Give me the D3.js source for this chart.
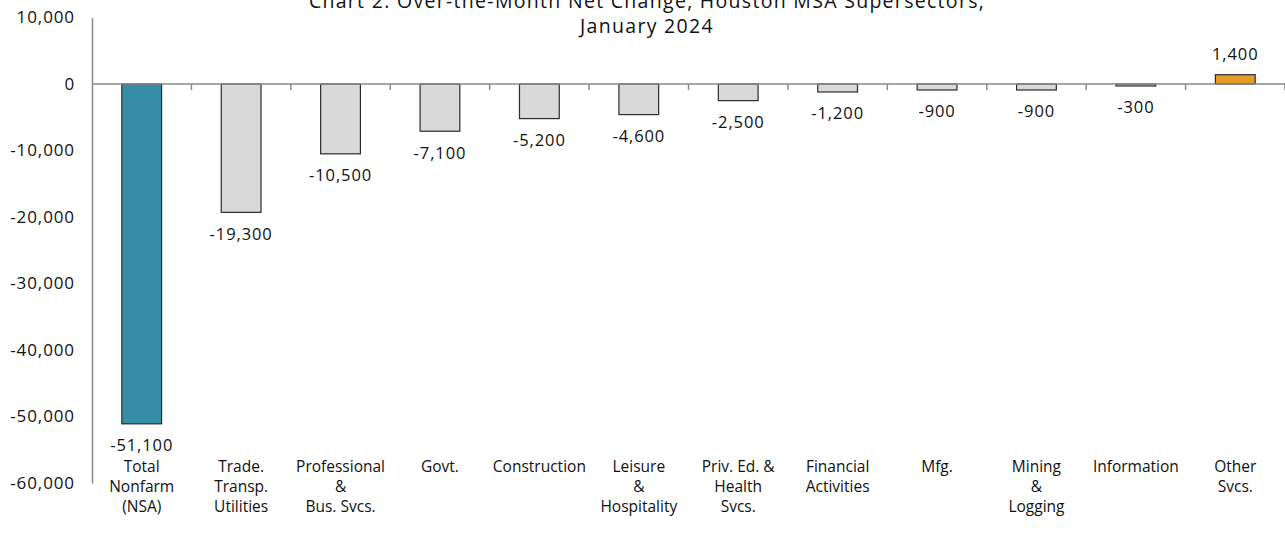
<!DOCTYPE html>
<html>
<head>
<meta charset="utf-8">
<script src="https://cdn.jsdelivr.net/npm/d3@7"></script>
<style>
  html, body { margin: 0; padding: 0; background: #fff; }
  svg { display: block; }
  text { font-family: "Open Sans", "DejaVu Sans", sans-serif; fill: #111; }
</style>
</head>
<body>
<svg id="chart" width="1285" height="559"></svg>
<script>
// Houston MSA supersectors, over-the-month net change, January 2024
const categories = [
  ["Total", "Nonfarm", "(NSA)"],
  ["Trade.", "Transp.", "Utilities"],
  ["Professional", "&", "Bus. Svcs."],
  ["Govt."],
  ["Construction"],
  ["Leisure", "&", "Hospitality"],
  ["Priv. Ed. &", "Health", "Svcs."],
  ["Financial", "Activities"],
  ["Mfg."],
  ["Mining", "&", "Logging"],
  ["Information"],
  ["Other", "Svcs."]
];
const values = [-51100, -19300, -10500, -7100, -5200, -4600, -2500, -1200, -900, -900, -300, 1400];
const yTicks = [10000, 0, -10000, -20000, -30000, -40000, -50000, -60000];
const titleLines = ["Chart 2. Over-the-Month Net Change, Houston MSA Supersectors,", "January 2024"];

const svg = d3.select("#chart");
const margin = { left: 92, right: 0, top: 17.5, bottom: 76 };
const W = 1285, H = 559;

const x = d3.scaleBand()
  .domain(d3.range(categories.length))
  .range([margin.left, W - margin.right])
  .paddingInner(0.6)
  .paddingOuter(0.3);

const y = d3.scaleLinear()
  .domain([-60000, 10000])
  .range([H - margin.bottom, margin.top]);

// thousands separator with a plain hyphen for negatives
const comma = d3.format(",");
const fmt = v => comma(v).replace("\u2212", "-");

// Y axis: labels plus a vertical line, no tick marks
const yAxis = svg.append("g")
  .attr("transform", `translate(${margin.left},0)`)
  .call(d3.axisLeft(y).tickValues(yTicks).tickFormat(fmt).tickSize(0).tickPadding(17));
yAxis.select(".domain").attr("stroke", "#8a8a8a").attr("stroke-width", 1.5);
yAxis.selectAll("text")
  .style("font-size", "17px")
  .style("letter-spacing", "0.9px")
  .style("font-family", '"Open Sans", "DejaVu Sans", sans-serif')
  .attr("fill", "#111");

// Bars
const colorFor = (d, i) => i === 0 ? "#358ea6" : (d > 0 ? "#e59c2a" : "#d9d9d9");
svg.append("g").selectAll("rect")
  .data(values)
  .join("rect")
  .attr("x", (d, i) => x(i))
  .attr("width", x.bandwidth())
  .attr("y", d => y(Math.max(0, d)))
  .attr("height", d => Math.abs(y(d) - y(0)))
  .attr("fill", colorFor)
  .attr("stroke", "#2b2b2b")
  .attr("stroke-width", 1.2);

// Zero line with tick marks at the category boundaries
const boundary = i => x(i) + x.bandwidth() + (x.step() - x.bandwidth()) / 2;
const xAxis = svg.append("g")
  .attr("transform", `translate(0,${y(0)})`);
xAxis.append("line")
  .attr("x1", margin.left).attr("x2", W)
  .attr("stroke", "#8a8a8a").attr("stroke-width", 1.5);
xAxis.selectAll(".tk")
  .data(d3.range(categories.length))
  .join("line")
  .attr("class", "tk")
  .attr("x1", boundary)
  .attr("x2", boundary)
  .attr("y1", 0).attr("y2", 6)
  .attr("stroke", "#8a8a8a").attr("stroke-width", 1.5);

// Value labels beyond the end of each bar
svg.append("g").selectAll("text")
  .data(values)
  .join("text")
  .attr("x", (d, i) => x(i) + x.bandwidth() / 2)
  .attr("y", d => d < 0 ? y(d) + 21 : y(d) - 21)
  .attr("text-anchor", "middle")
  .attr("dominant-baseline", "central")
  .style("font-size", "16.5px")
  .style("letter-spacing", "0.9px")
  .text(d => fmt(d));

// Category labels
const cat = svg.append("g").selectAll("text")
  .data(categories)
  .join("text")
  .attr("x", (d, i) => x(i) + x.bandwidth() / 2)
  .attr("y", 467)
  .attr("text-anchor", "middle")
  .style("font-size", "15.5px");
cat.selectAll("tspan")
  .data(d => d)
  .join("tspan")
  .attr("x", function() { return d3.select(this.parentNode).attr("x"); })
  .attr("dy", (d, j) => j === 0 ? "0.35em" : "20px")
  .text(d => d);

// Title, two centred lines; the first sits against the top edge
svg.append("g").selectAll("text")
  .data(titleLines)
  .join("text")
  .attr("x", 647)
  .attr("y", (d, i) => 8 + i * 25)
  .attr("text-anchor", "middle")
  .style("font-size", "19.5px")
  .style("letter-spacing", "1.3px")
  .text(d => d);
</script>
</body>
</html>
